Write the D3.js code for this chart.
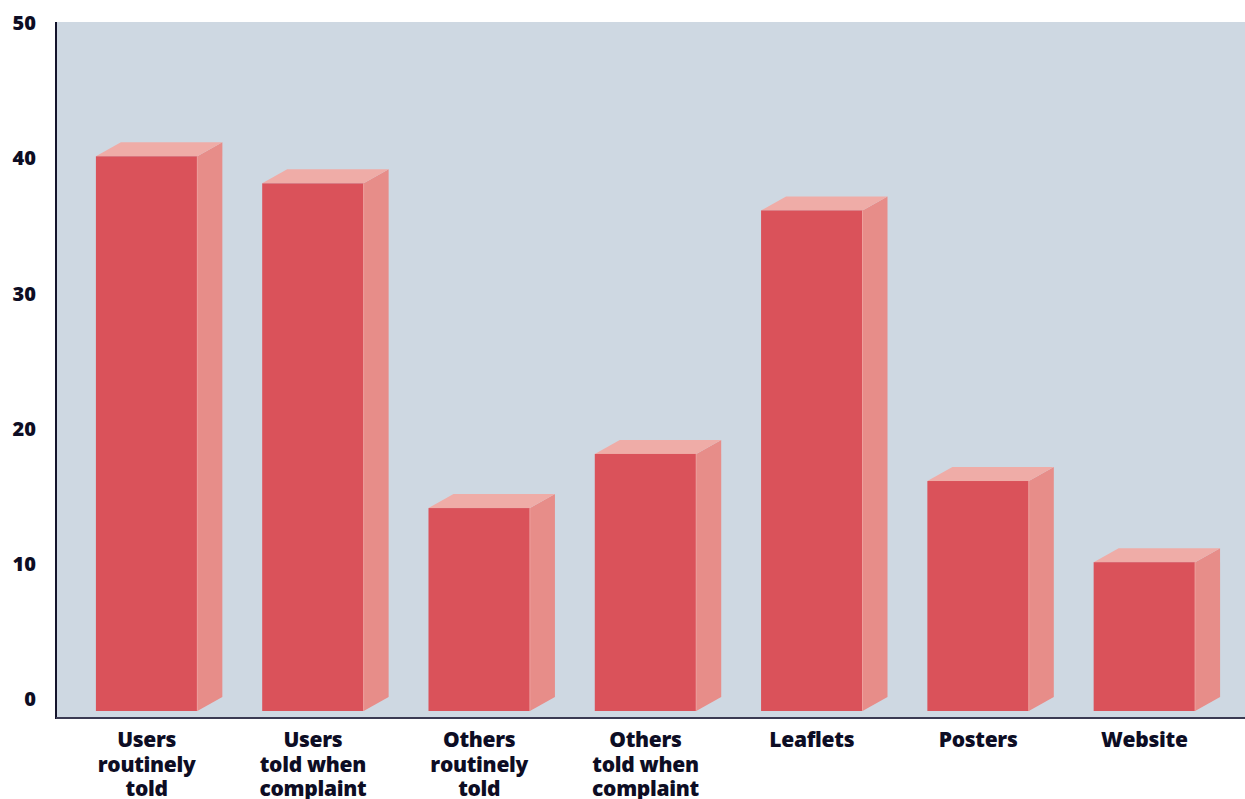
<!DOCTYPE html>
<html>
<head>
<meta charset="utf-8">
<script src="https://cdn.jsdelivr.net/npm/d3@7"></script>
<style>
  html, body { margin: 0; padding: 0; background: #ffffff; }
  svg { display: block; }
</style>
</head>
<body>
<svg id="chart" width="1245" height="799"></svg>
<script>
// Categories, each split into its printed lines
const categories = [
  "Users routinely told",
  "Users told when complaint",
  "Others routinely told",
  "Others told when complaint",
  "Leaflets",
  "Posters",
  "Website"
];
const categoryLines = [
  ["Users", "routinely", "told"],
  ["Users", "told when", "complaint"],
  ["Others", "routinely", "told"],
  ["Others", "told when", "complaint"],
  ["Leaflets"],
  ["Posters"],
  ["Website"]
];
const values = [40, 38, 14, 18, 36, 16, 10];
const yTicks = [0, 10, 20, 30, 40, 50];

const svg = d3.select("#chart");
const W = 1245, H = 799;

const plotLeft = 56, plotTop = 22, plotBottom = 718;
const depthX = 25, depthY = 14;

const y = d3.scaleLinear().domain([0, 50]).range([697.5, 21]);
const x = d3.scaleBand()
  .domain(categories)
  .range([56, 1235])
  .paddingInner(0.39)
  .paddingOuter(0.24);

// plot background
svg.append("rect")
  .attr("x", plotLeft).attr("y", plotTop)
  .attr("width", W - plotLeft).attr("height", plotBottom - plotTop)
  .attr("fill", "#ced8e2");

// 3D bars
const base = y(0) + 13.5;
const bars = svg.append("g").selectAll("g")
  .data(categories.map((c, i) => ({ c, v: values[i] })))
  .join("g");

bars.each(function (d) {
  const g = d3.select(this);
  const x0 = x(d.c), x1 = x0 + x.bandwidth();
  const top = y(d.v);
  // side face
  g.append("path")
    .attr("d", `M${x1},${top} L${x1 + depthX},${top - depthY} L${x1 + depthX},${base - depthY} L${x1},${base} Z`)
    .attr("fill", "#e78d89");
  // top face
  g.append("path")
    .attr("d", `M${x0},${top} L${x0 + depthX},${top - depthY} L${x1 + depthX},${top - depthY} L${x1},${top} Z`)
    .attr("fill", "#efaca7");
  // front face
  g.append("rect")
    .attr("x", x0).attr("y", top)
    .attr("width", x.bandwidth()).attr("height", base - top)
    .attr("fill", "#da525a");
  // light edge between front and side
  g.append("line")
    .attr("x1", x1).attr("x2", x1)
    .attr("y1", top).attr("y2", base)
    .attr("stroke", "#ef9f9c").attr("stroke-width", 1);
});

// axes lines
svg.append("line")
  .attr("x1", plotLeft).attr("x2", plotLeft)
  .attr("y1", plotTop).attr("y2", plotBottom + 1)
  .attr("stroke", "#14142c").attr("stroke-width", 2);
svg.append("line")
  .attr("x1", plotLeft).attr("x2", W)
  .attr("y1", plotBottom).attr("y2", plotBottom)
  .attr("stroke", "#3a3a52").attr("stroke-width", 2);

// y axis labels
const yAxis = d3.axisLeft(y).tickValues(yTicks).tickSize(0).tickPadding(0).tickFormat(d3.format("d"));
const ga = svg.append("g").attr("transform", "translate(36,2)").call(yAxis);
ga.select(".domain").remove();
ga.selectAll("text")
  .attr("fill", "#0d0d24")
  .style("font-family", "'Open Sans', sans-serif")
  .style("font-weight", "800")
  .style("font-size", "20px");

// category labels
const labels = svg.append("g");
categories.forEach((c, i) => {
  const cx = x(c) + x.bandwidth() / 2;
  const t = labels.append("text")
    .attr("x", cx)
    .attr("text-anchor", "middle")
    .attr("fill", "#0d0d24")
    .style("font-family", "'Open Sans', sans-serif")
    .style("font-weight", "800")
    .style("font-size", "21px")
    .style("letter-spacing", "-0.3px");
  categoryLines[i].forEach((line, j) => {
    t.append("tspan").attr("x", cx).attr("y", 747 + j * 24.5).text(line);
  });
});
</script>
</body>
</html>
